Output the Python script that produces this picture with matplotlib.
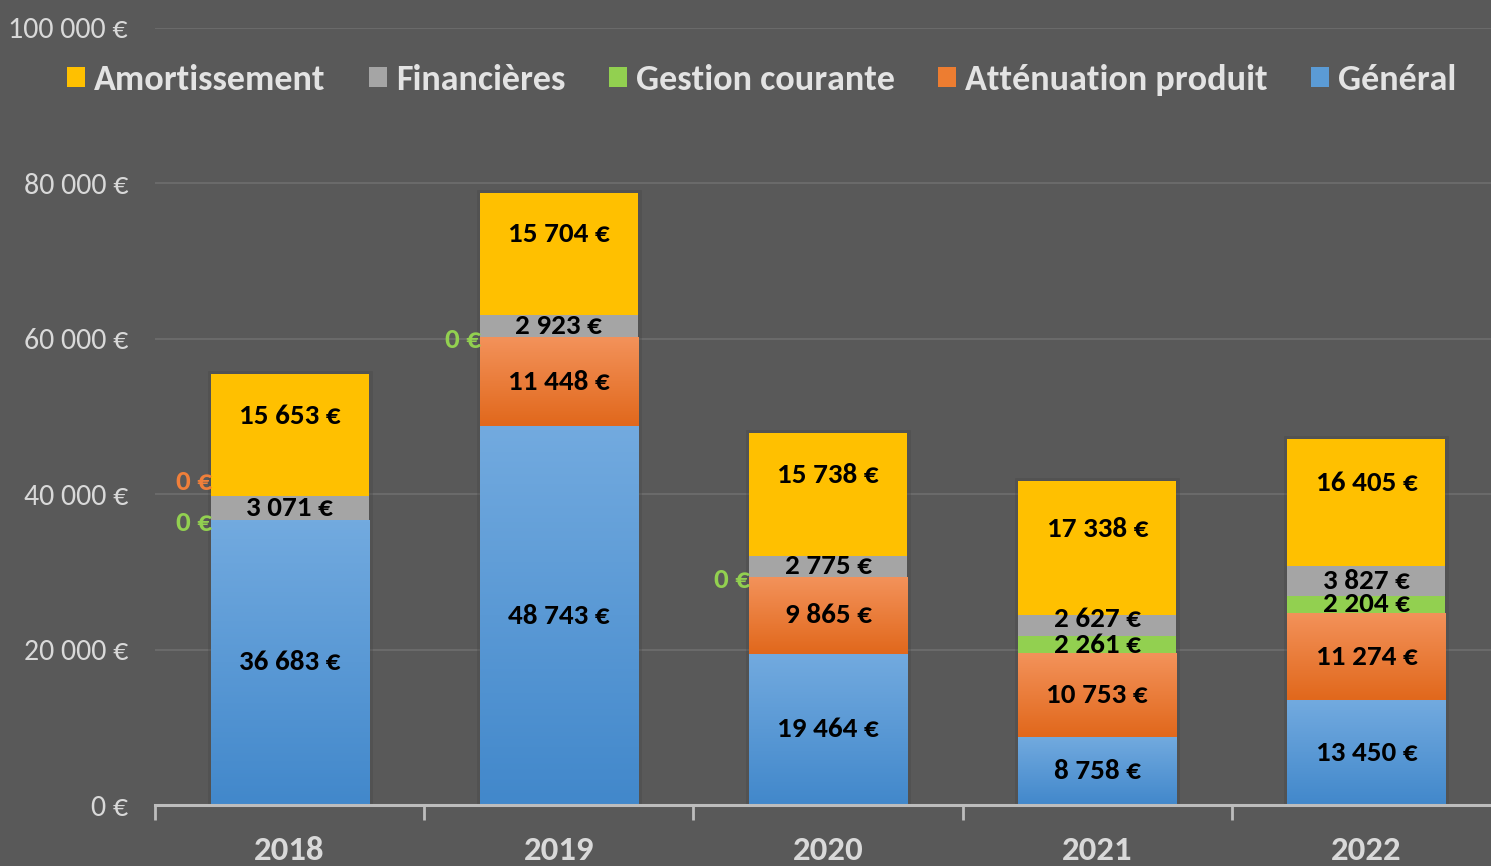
import matplotlib
matplotlib.use("Agg")
import matplotlib.pyplot as plt
import matplotlib.patches as mpatches
import matplotlib.patheffects as pe
from matplotlib.colors import LinearSegmentedColormap
from matplotlib.ticker import FuncFormatter, MultipleLocator
import numpy as np

plt.rcParams["font.family"] = ["Carlito", "DejaVu Sans"]

# ── Data ──────────────────────────────────────────────────────────────────────
years = ["2018", "2019", "2020", "2021", "2022"]
general = [36683, 48743, 19464, 8758, 13450]
attenuation = [0, 11448, 9865, 10753, 11274]
gestion = [0, 0, 0, 2261, 2204]
financieres = [3071, 2923, 2775, 2627, 3827]
amortissement = [15653, 15704, 15738, 17338, 16405]

# stacking order bottom -> top
series = [
    ("Général", general),
    ("Atténuation produit", attenuation),
    ("Gestion courante", gestion),
    ("Financières", financieres),
    ("Amortissement", amortissement),
]
legend_order = ["Amortissement", "Financières", "Gestion courante",
                "Atténuation produit", "Général"]

# ── Style ─────────────────────────────────────────────────────────────────────
BG = "#595959"
GRID = "#6c6c6c"
TXT = "#e3e3e3"
COLORS = {
    "Général": "#5b9bd5",
    "Atténuation produit": "#ed7d31",
    "Gestion courante": "#92d050",
    "Financières": "#a5a5a5",
    "Amortissement": "#ffc000",
}
GRADIENTS = {
    "Général": ("#72aadf", "#4288cb"),
    "Atténuation produit": ("#f3925a", "#e1681c"),
}
ZERO_COLORS = {
    "Atténuation produit": "#f07f3a",
    "Gestion courante": "#92d050",
}
ZERO_SHIFT = {"Atténuation produit": 27, "Gestion courante": -2}
LABEL_SHIFT = {"Amortissement": 14}
# labels moved by hand in the original to keep thin segments readable
LABEL_NUDGE = {("Financières", "2021"): 5}
BAR_W = 0.587
FS_LABEL = 21

fig = plt.figure(figsize=(14.91, 8.66), dpi=100)
fig.patch.set_facecolor(BG)
ax = fig.add_axes([155 / 1491, 61 / 866, 1346 / 1491, 777 / 866])
ax.set_facecolor(BG)

x = np.arange(len(years))

# soft shadow behind each full column
totals = np.sum([v for _, v in series], axis=0)
shadow = ax.bar(x, totals, width=BAR_W, color=BG, linewidth=0, zorder=1)
for p in shadow:
    p.set_path_effects([pe.withStroke(linewidth=5, foreground="#474747", alpha=0.35)])

bottom = np.zeros(len(years))
for name, vals in series:
    vals = np.array(vals, dtype=float)
    bars = ax.bar(x, vals, width=BAR_W, bottom=bottom, color=COLORS[name],
                  linewidth=0, zorder=2)
    if name in GRADIENTS:
        cmap = LinearSegmentedColormap.from_list(name, list(GRADIENTS[name]))
        grad = np.linspace(0, 1, 64).reshape(-1, 1)
        for p in bars:
            if p.get_height() <= 0:
                continue
            x0, y0 = p.get_x(), p.get_y()
            im = ax.imshow(grad, cmap=cmap, aspect="auto", origin="upper",
                           extent=(x0, x0 + p.get_width(), y0, y0 + p.get_height()),
                           zorder=2.5, interpolation="bicubic")
            im.set_clip_path(p)
    for i, v in enumerate(vals):
        label = f"{int(v):,} €".replace(",", " ")
        if v == 0:
            if name in ZERO_COLORS:
                ax.annotate(label, xy=(x[i] - BAR_W / 2, bottom[i]),
                            xytext=(1, ZERO_SHIFT[name]), textcoords="offset points",
                            ha="right", va="center", fontsize=FS_LABEL,
                            fontweight="bold", color=ZERO_COLORS[name], zorder=5)
        else:
            dy = LABEL_SHIFT.get(name, 0) + LABEL_NUDGE.get((name, years[i]), 0)
            ax.annotate(label, xy=(x[i], bottom[i] + v / 2),
                        xytext=(0, dy), textcoords="offset points",
                        ha="center", va="center", fontsize=FS_LABEL,
                        fontweight="bold", color="black", zorder=5)
    bottom += vals

ax.set_xlim(-0.5, len(years) - 0.5)
ax.set_ylim(0, 100000)

# ── Axes ──────────────────────────────────────────────────────────────────────
ax.yaxis.set_major_locator(MultipleLocator(20000))
ax.yaxis.set_major_formatter(FuncFormatter(lambda v, _: f"{int(v):,} €".replace(",", " ")))
ax.grid(axis="y", color=GRID, linewidth=1.3, zorder=0)
ax.set_axisbelow(True)
for s in ["left", "right", "top"]:
    ax.spines[s].set_visible(False)
ax.spines["bottom"].set_color("#bdbdbd")
ax.spines["bottom"].set_linewidth(2.2)
ax.spines["bottom"].set_zorder(6)

ax.tick_params(axis="y", length=0, pad=19.5, labelsize=21.5, labelcolor="#d9d9d9")

ax.set_xticks(x)
ax.set_xticklabels(years)
ax.set_xticks(np.arange(-0.5, len(years)), minor=True)
ax.tick_params(axis="x", which="major", length=0, pad=22, labelsize=25,
               labelcolor="#d9d9d9")
ax.tick_params(axis="x", which="minor", length=11, width=2, color="#bdbdbd",
               direction="out")
for t in ax.get_xticklabels():
    t.set_fontweight("bold")

# ── Legend ────────────────────────────────────────────────────────────────────
handles = [mpatches.Patch(facecolor=COLORS[n], edgecolor="none", label=n)
           for n in legend_order]
leg = fig.legend(handles=handles, loc="center", ncol=5,
                 bbox_to_anchor=(762 / 1491, 1 - 80 / 866), frameon=False,
                 handlelength=0.5, handleheight=0.5, handletextpad=0.25,
                 columnspacing=1.2, prop={"size": 26, "weight": "bold"})
for t in leg.get_texts():
    t.set_color(TXT)

fig.savefig("out.png", dpi=100, facecolor=BG)
